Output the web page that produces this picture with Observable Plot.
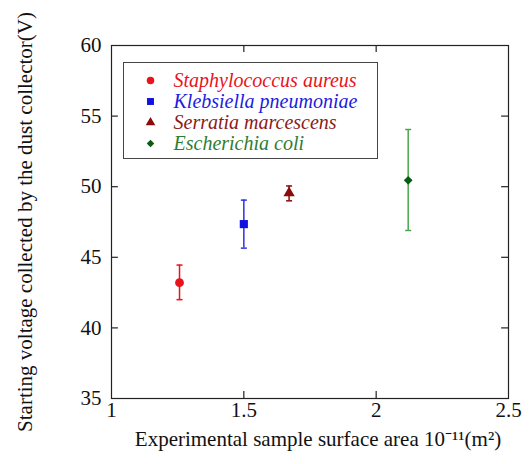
<!DOCTYPE html>
<html>
<head>
<meta charset="utf-8">
<script src="https://cdn.jsdelivr.net/npm/d3@7"></script>
<script src="https://cdn.jsdelivr.net/npm/@observablehq/plot@0.6"></script>
<style>
  html, body { margin: 0; padding: 0; background: #fff; }
  #wrap { position: relative; width: 529px; height: 464px; }
  #wrap svg, #wrap svg text { font-family: "Liberation Serif", "Times New Roman", serif !important; }
  #legendBox { position: absolute; left: 123px; top: 62px; width: 253px; height: 95px; border: 1.5px solid #444; pointer-events: none; }
</style>
</head>
<body>
<div id="wrap"><div id="legendBox"></div></div>
<script>
const species = ["Staphylococcus aureus", "Klebsiella pneumoniae", "Serratia marcescens", "Escherichia coli"];
const area = [1.257, 1.50, 1.671, 2.121];
const voltage = [43.2, 47.35, 49.55, 50.45];
const errLow = [42.0, 45.65, 49.0, 46.9];
const errHigh = [44.45, 49.05, 50.05, 54.05];
const symbols = ["circle", "square", "triangle", "diamond2"];
const markerColors = ["#e8131b", "#1010e0", "#8b0a0a", "#0a5c14"];
const barColors = ["#e8131b", "#3030e0", "#8b0a0a", "#4ca64c"];
const textColors = ["#e8131b", "#1c1ce0", "#8b1a1a", "#2e7d32"];
const markerRadius = [4.4, 4.6, 4.2, 3.3];
const xTicks = [1, 1.5, 2, 2.5];
const yTicks = [35, 40, 45, 50, 55, 60];
const xLabel = "Experimental sample surface area 10\u207B\u00B9\u00B9(m\u00B2)";
const yLabel = "Starting voltage collected by the dust collector(V)";

const data = species.map((s, i) => ({
  species: s, x: area[i], y: voltage[i], lo: errLow[i], hi: errHigh[i],
  symbol: symbols[i], mc: markerColors[i], bc: barColors[i], tc: textColors[i], r: markerRadius[i], row: i
}));

const cap = { draw(ctx) { ctx.moveTo(-3, 0); ctx.lineTo(3, 0); } };
const diamond = { draw(ctx, size) { const s = Math.sqrt(size) * 0.75; ctx.moveTo(0, -s); ctx.lineTo(s, 0); ctx.lineTo(0, s); ctx.lineTo(-s, 0); ctx.closePath(); } };
const symFor = (name) => name === "diamond2" ? diamond : name;

const font = "Liberation Serif, Times New Roman, serif";
const innerX = xTicks.slice(1, -1);
const innerY = yTicks.slice(1, -1);

const legendMarks = data.flatMap((d, i) => [
  Plot.dot([d], { frameAnchor: "top-left", dx: 39, dy: 35 + 21 * i, symbol: () => symFor(d.symbol), fill: d.mc, stroke: "none", r: d.r * 0.85 }),
  Plot.text([d], { frameAnchor: "top-left", dx: 62, dy: 35 + 21 * i, text: "species", textAnchor: "start", lineAnchor: "middle", fill: d.tc, fontStyle: "italic", fontSize: 20 })
]);

const chart = Plot.plot({
  width: 529,
  height: 464,
  marginLeft: 111,
  marginRight: 21,
  marginTop: 45,
  marginBottom: 66,
  style: { fontFamily: font, fontSize: "21px", color: "#111", background: "#fff" },
  x: { domain: [1, 2.5] },
  y: { domain: [35, 60] },
  r: { type: "identity" },
  marks: [
    Plot.frame({ stroke: "#222", strokeWidth: 1.2 }),
    Plot.axisX({ anchor: "bottom", ticks: xTicks, tickSize: 0, tickPadding: 4, tickFormat: d => String(d), label: null, fontSize: 21 }),
    Plot.axisY({ anchor: "left", ticks: yTicks, tickSize: 0, tickPadding: 10, label: null, fontSize: 21 }),
    Plot.ruleX(innerX, { x: d => d, y1: 35, y2: 35.5, stroke: "#222", strokeWidth: 1.2 }),
    Plot.ruleX(innerX, { x: d => d, y1: 59.5, y2: 60, stroke: "#222", strokeWidth: 1.2 }),
    Plot.ruleY(innerY, { y: d => d, x1: 1, x2: 1.026, stroke: "#222", strokeWidth: 1.2 }),
    Plot.ruleY(innerY, { y: d => d, x1: 2.474, x2: 2.5, stroke: "#222", strokeWidth: 1.2 }),
    Plot.ruleX(data, { x: "x", y1: "lo", y2: "hi", stroke: "bc", strokeWidth: 1.5 }),
    Plot.dot(data, { x: "x", y: "lo", symbol: () => cap, stroke: "bc", strokeWidth: 1.5 }),
    Plot.dot(data, { x: "x", y: "hi", symbol: () => cap, stroke: "bc", strokeWidth: 1.5 }),
    Plot.dot(data, { x: "x", y: "y", symbol: d => symFor(d.symbol), fill: "mc", stroke: "none", r: "r" }),
    ...legendMarks,
    Plot.text([yLabel], { frameAnchor: "left", dx: -86, dy: 0, rotate: -90, textAnchor: "middle", text: d => d, fontSize: 21, fill: "#111" }),
    Plot.text([xLabel], { frameAnchor: "bottom", dx: 8, dy: 47, textAnchor: "middle", text: d => d, fontSize: 21, fill: "#111" })
  ]
});
document.getElementById("wrap").prepend(chart);
</script>
</body>
</html>
